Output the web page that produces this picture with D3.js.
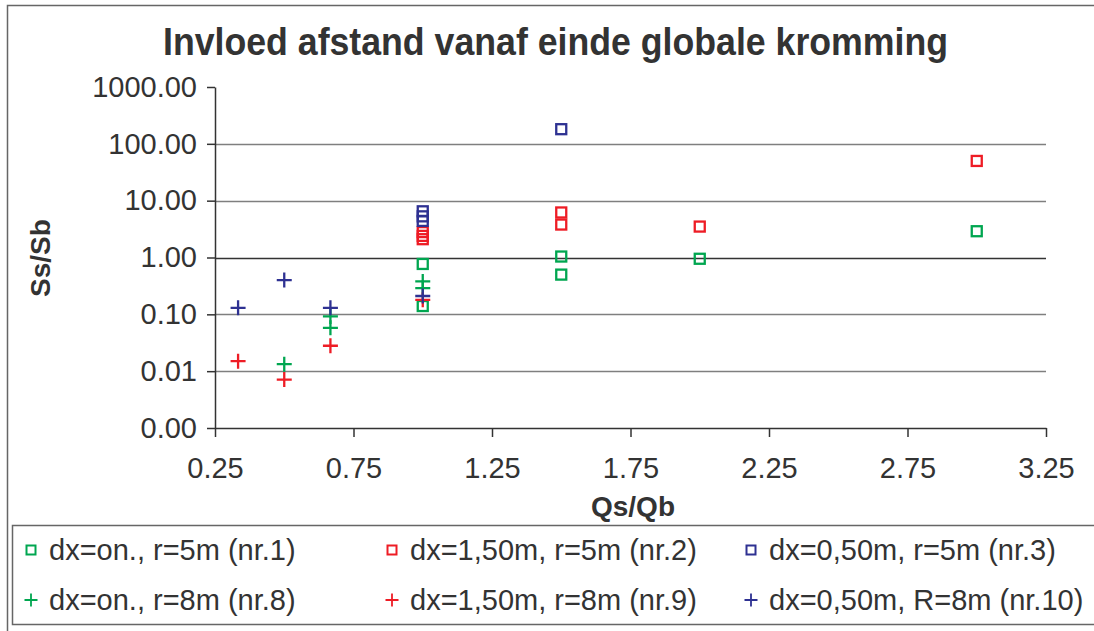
<!DOCTYPE html>
<html>
<head>
<meta charset="utf-8">
<script src="https://cdn.jsdelivr.net/npm/d3@7"></script>
<style>
  html, body { margin: 0; padding: 0; background: #fff; }
  svg { display: block; font-family: "Liberation Sans", Arial, sans-serif; }
</style>
</head>
<body>
<svg id="chart" width="1094" height="631"></svg>
<script>
// Qs/Qb against Ss/Sb for the six test series
const s1x = [1, 1, 1.5, 1.5, 2, 3];
const s1y = [0.77, 0.14, 1.04, 0.50, 0.95, 2.9];
const s2x = [1, 1, 1, 1.5, 1.5, 2, 3];
const s2y = [2.8, 2.4, 2.1, 6.2, 3.8, 3.5, 50];
const s3x = [1, 1, 1, 1.5];
const s3y = [6.5, 5.3, 4.4, 181];
const s8x = [0.5, 2 / 3, 2 / 3, 1, 1];
const s8y = [0.0133, 0.092, 0.058, 0.38, 0.29];
const s9x = [1 / 3, 0.5, 2 / 3, 1];
const s9y = [0.015, 0.0071, 0.028, 0.18];
const s10x = [1 / 3, 0.5, 2 / 3, 1];
const s10y = [0.13, 0.40, 0.13, 0.21];

const seriesNames = [
  "dx=on., r=5m (nr.1)", "dx=1,50m, r=5m (nr.2)", "dx=0,50m, r=5m (nr.3)",
  "dx=on., r=8m (nr.8)", "dx=1,50m, r=8m (nr.9)", "dx=0,50m, R=8m (nr.10)"
];
const xTicks = [0.25, 0.75, 1.25, 1.75, 2.25, 2.75, 3.25];
const yTicks = [0.001, 0.01, 0.1, 1, 10, 100, 1000];
const titleText = "Invloed afstand vanaf einde globale kromming";
const xTitle = "Qs/Qb";
const yTitle = "Ss/Sb";

const GREEN = "#00a650", RED = "#ee1c25", BLUE = "#2e3192";
const series = [
  { name: seriesNames[0], xs: s1x, ys: s1y, color: GREEN, shape: "square" },
  { name: seriesNames[1], xs: s2x, ys: s2y, color: RED, shape: "square" },
  { name: seriesNames[2], xs: s3x, ys: s3y, color: BLUE, shape: "square" },
  { name: seriesNames[3], xs: s8x, ys: s8y, color: GREEN, shape: "plus" },
  { name: seriesNames[4], xs: s9x, ys: s9y, color: RED, shape: "plus" },
  { name: seriesNames[5], xs: s10x, ys: s10y, color: BLUE, shape: "plus" }
];

const svg = d3.select("#chart");
const TXT = "#333";
const FS = 29;

// outer chart frame (runs off the right and bottom edges)
svg.append("path")
  .attr("d", "M7.5,640 V5.5 H1110")
  .attr("fill", "none").attr("stroke", "#666").attr("stroke-width", 1.5);

const plot = { left: 215, right: 1046, top: 87, bottom: 428 };
const x = d3.scaleLinear().domain([0.25, 3.25]).range([plot.left, plot.right]);
const y = d3.scaleLog().domain([0.001, 1000]).range([plot.bottom, plot.top]);

// title
svg.append("text")
  .attr("x", 555.5).attr("y", 55)
  .attr("text-anchor", "middle")
  .attr("font-size", 39).attr("font-weight", "bold").attr("fill", TXT)
  .attr("textLength", 785).attr("lengthAdjust", "spacingAndGlyphs")
  .text(titleText);

// horizontal gridlines at every decade inside the plot
svg.append("g").selectAll("line")
  .data(yTicks.filter(v => v > 0.001 && v < 1000))
  .join("line")
  .attr("x1", plot.left).attr("x2", plot.right)
  .attr("y1", d => Math.round(y(d)) + 0.5).attr("y2", d => Math.round(y(d)) + 0.5)
  .attr("stroke", d => d === 1 ? "#333" : "#7f7f7f")
  .attr("stroke-width", 1.5);

// y axis
const yAxis = d3.axisLeft(y).tickValues(yTicks).tickFormat(d3.format(".2f"))
  .tickSize(8).tickSizeOuter(0).tickPadding(10);
const gy = svg.append("g").attr("transform", `translate(${plot.left},0)`).call(yAxis);
gy.selectAll("path, line").attr("stroke", "#333").attr("stroke-width", 1.5);
gy.selectAll("text").attr("font-size", FS).attr("fill", TXT)
  .attr("font-family", "Liberation Sans, Arial, sans-serif");

// x axis
const xAxis = d3.axisBottom(x).tickValues(xTicks).tickFormat(d3.format(".2f"))
  .tickSize(9).tickSizeOuter(0).tickPadding(20);
const gx = svg.append("g").attr("transform", `translate(0,${plot.bottom})`).call(xAxis);
gx.selectAll("path, line").attr("stroke", "#333").attr("stroke-width", 1.5);
gx.selectAll("text").attr("font-size", FS).attr("fill", TXT)
  .attr("font-family", "Liberation Sans, Arial, sans-serif");

// axis titles
svg.append("text")
  .attr("x", 633).attr("y", 516)
  .attr("text-anchor", "middle").attr("font-size", 28).attr("font-weight", "bold").attr("fill", TXT)
  .text(xTitle);
svg.append("text")
  .attr("transform", "translate(50,258) rotate(-90)")
  .attr("text-anchor", "middle").attr("font-size", 28).attr("font-weight", "bold").attr("fill", TXT)
  .text(yTitle);

// marker drawing
function drawMarker(g, shape, color, size, sw) {
  if (shape === "square") {
    g.append("rect")
      .attr("x", -size / 2).attr("y", -size / 2)
      .attr("width", size).attr("height", size)
      .attr("fill", "none").attr("stroke", color).attr("stroke-width", sw);
  } else {
    g.append("path")
      .attr("d", `M${-size / 2},0H${size / 2}M0,${-size / 2}V${size / 2}`)
      .attr("fill", "none").attr("stroke", color).attr("stroke-width", sw);
  }
}

const marks = svg.append("g");
series.forEach(s => {
  s.xs.forEach((xv, i) => {
    const g = marks.append("g").attr("transform", `translate(${x(xv)},${y(s.ys[i])})`);
    drawMarker(g, s.shape, s.color, s.shape === "square" ? 10 : 15, 2.3);
  });
});

// legend
svg.append("path")
  .attr("d", "M1110,525.5 H12.5 V624.5 H1110")
  .attr("fill", "none").attr("stroke", "#666").attr("stroke-width", 1.5);

const legCols = [31, 392, 751];
const legRows = [550, 600];
series.forEach((s, i) => {
  const cx = legCols[i % 3], cy = legRows[Math.floor(i / 3)];
  const g = svg.append("g").attr("transform", `translate(${cx},${cy})`);
  drawMarker(g, s.shape, s.color, s.shape === "square" ? 9 : 13, s.shape === "square" ? 2 : 1.8);
  g.append("text")
    .attr("x", 18).attr("y", 0).attr("dy", "0.35em")
    .attr("font-size", FS).attr("fill", TXT)
    .text(s.name);
});
</script>
</body>
</html>
